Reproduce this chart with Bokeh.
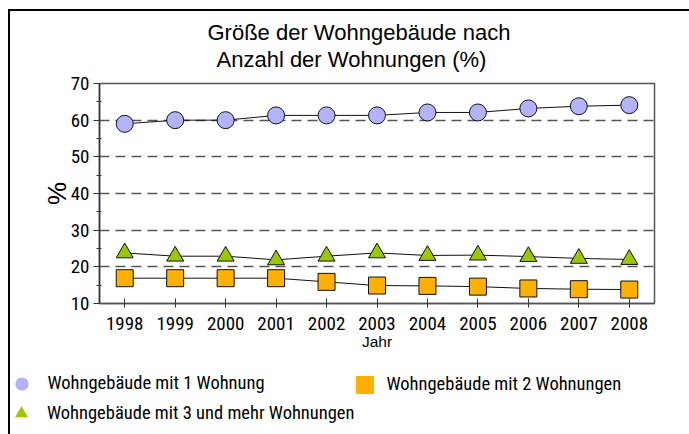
from bokeh.plotting import figure
from bokeh.layouts import column
from bokeh.models import Range1d, FixedTicker, Title, Legend, LegendItem, ColumnDataSource
from bokeh.embed import file_html
from bokeh.resources import INLINE

years = [1998, 1999, 2000, 2001, 2002, 2003, 2004, 2005, 2006, 2007, 2008]
one_flat = [59.0, 60.0, 60.0, 61.3, 61.3, 61.3, 62.1, 62.1, 63.2, 63.8, 64.1]
two_flats = [16.9, 16.9, 16.9, 16.9, 15.9, 14.9, 14.8, 14.6, 14.1, 13.9, 13.8]
three_plus = [23.8, 22.9, 22.9, 21.9, 22.9, 23.8, 23.1, 23.2, 22.8, 22.3, 22.0]
y_ticks = [10, 20, 30, 40, 50, 60, 70]
y_minor = [15, 25, 35, 45, 55, 65]

labels = ["Wohngebäude mit 1 Wohnung", "Wohngebäude mit 2 Wohnungen",
          "Wohngebäude mit 3 und mehr Wohnungen"]
title1 = "Größe der Wohngebäude nach"
title2 = "Anzahl der Wohnungen (%)"

SANS = "Liberation Sans"
COND = "Roboto Condensed"

W, H1, H2 = 679, 351, 72
p = figure(width=W, height=H1, output_backend="svg", toolbar_location=None, title=None,
           x_range=Range1d(1997.5, 2008.5), y_range=Range1d(10, 70),
           min_border_left=89, min_border_right=35, min_border_top=72, min_border_bottom=59)
p.background_fill_color = "white"
p.border_fill_color = "white"
p.outline_line_color = "#555555"
p.outline_line_width = 1.5

# titles (spacer nearest the frame, then the two title lines)
t0 = Title(text=" ", standoff=9, text_font=SANS, text_font_size="1px")
t2 = Title(text=title2, align="left", offset=117, standoff=0, text_font=SANS,
           text_font_size="22px", text_font_style="normal", text_color="black")
t1 = Title(text=title1, align="left", offset=108, standoff=0, text_font=SANS,
           text_font_size="22px", text_font_style="normal", text_color="black")
p.add_layout(t0, "above")
p.add_layout(t2, "above")
p.add_layout(t1, "above")

# axes
p.xaxis.ticker = FixedTicker(ticks=years)
p.xaxis.major_label_text_font = COND
p.xaxis.major_label_text_font_size = "19px"
p.xaxis.major_label_text_color = "black"
p.xaxis.major_label_standoff = 9
p.xaxis.major_tick_in = 5
p.xaxis.major_tick_out = 4
p.xaxis.minor_tick_line_color = None
p.xaxis.axis_line_color = "#555555"
p.xaxis.axis_line_width = 1.5
p.xaxis.major_tick_line_color = "#333333"
p.xaxis.axis_label = "Jahr"
p.xaxis.axis_label_text_font = SANS
p.xaxis.axis_label_text_font_size = "15.5px"
p.xaxis.axis_label_text_font_style = "normal"
p.xaxis.axis_label_text_color = "black"
p.xaxis.axis_label_standoff = 0

p.yaxis.ticker = FixedTicker(ticks=y_ticks, minor_ticks=y_minor)
p.yaxis.major_label_text_font = COND
p.yaxis.major_label_text_font_size = "19px"
p.yaxis.major_label_text_color = "black"
p.yaxis.major_label_standoff = 4
p.yaxis.major_tick_in = 0
p.yaxis.major_tick_out = 6
p.yaxis.minor_tick_in = 2
p.yaxis.minor_tick_out = 3
p.yaxis.axis_line_color = "#333333"
p.yaxis.axis_line_width = 1.5
p.yaxis.major_tick_line_color = "#333333"
p.yaxis.minor_tick_line_color = "#333333"
p.yaxis.axis_label = "%"
p.yaxis.axis_label_text_font = SANS
p.yaxis.axis_label_text_font_size = "26px"
p.yaxis.axis_label_text_font_style = "normal"
p.yaxis.axis_label_text_color = "black"
p.yaxis.axis_label_standoff = -4

p.xgrid.grid_line_color = None
p.ygrid.ticker = FixedTicker(ticks=y_ticks)
p.ygrid.grid_line_color = "#555555"
p.ygrid.grid_line_width = 1.5
p.ygrid.grid_line_dash = "10 6"

src = ColumnDataSource(dict(x=years, a=one_flat, b=two_flats, c=three_plus))

colors = ["#b3b3fb", "#ffb000", "#99c800"]
markers = ["circle", "square", "triangle"]
cols = ["a", "b", "c"]
for col in cols:
    p.line("x", col, source=src, line_color="#111111", line_width=1)
for col, mk, colr in zip(cols, markers, colors):
    p.scatter("x", col, source=src, marker=mk, size=17, fill_color=colr,
              line_color="#111111", line_width=1)

# legend strip below the chart
q = figure(width=W, height=H2, output_backend="svg", toolbar_location=None, title=None,
           x_range=Range1d(0, 1), y_range=Range1d(0, 1), min_border=0,
           min_border_left=0, min_border_right=0, min_border_top=0, min_border_bottom=0,
           x_axis_type=None, y_axis_type=None)
q.outline_line_color = None
q.grid.visible = False
q.background_fill_color = "white"
q.border_fill_color = "white"

for fig in (p, q):
    if "frame_align" in fig.properties():
        fig.frame_align = False

leg_specs = [
    # marker, color, label, location, glyph size, standoff
    ("circle", colors[0], labels[0], (-5.5, 34.5), 33, 10),
    ("square", colors[1], labels[1], (331.5, 27.5), 45, 0),
    ("triangle", colors[2], labels[2], (-5, 5), 32, 10),
]
for mk, colr, lab, loc, gs, so in leg_specs:
    dummy = q.scatter(x=[-5], y=[-5], marker=mk, fill_color=colr, line_color=None)
    leg = Legend(items=[LegendItem(label=lab, renderers=[dummy])], location=loc,
                 glyph_width=gs, glyph_height=gs, label_standoff=so, padding=0, margin=0,
                 spacing=0, border_line_color=None, background_fill_alpha=0,
                 label_text_font=COND, label_text_font_size="18.5px",
                 label_text_color="black")
    q.add_layout(leg, "center")

layout = column(p, q, spacing=0)
layout.styles = {"border-left": "2px solid black", "border-top": "2px solid black",
                 "margin-left": "8px", "margin-top": "9px"}

open("out.html", "w").write(file_html(layout, INLINE))
